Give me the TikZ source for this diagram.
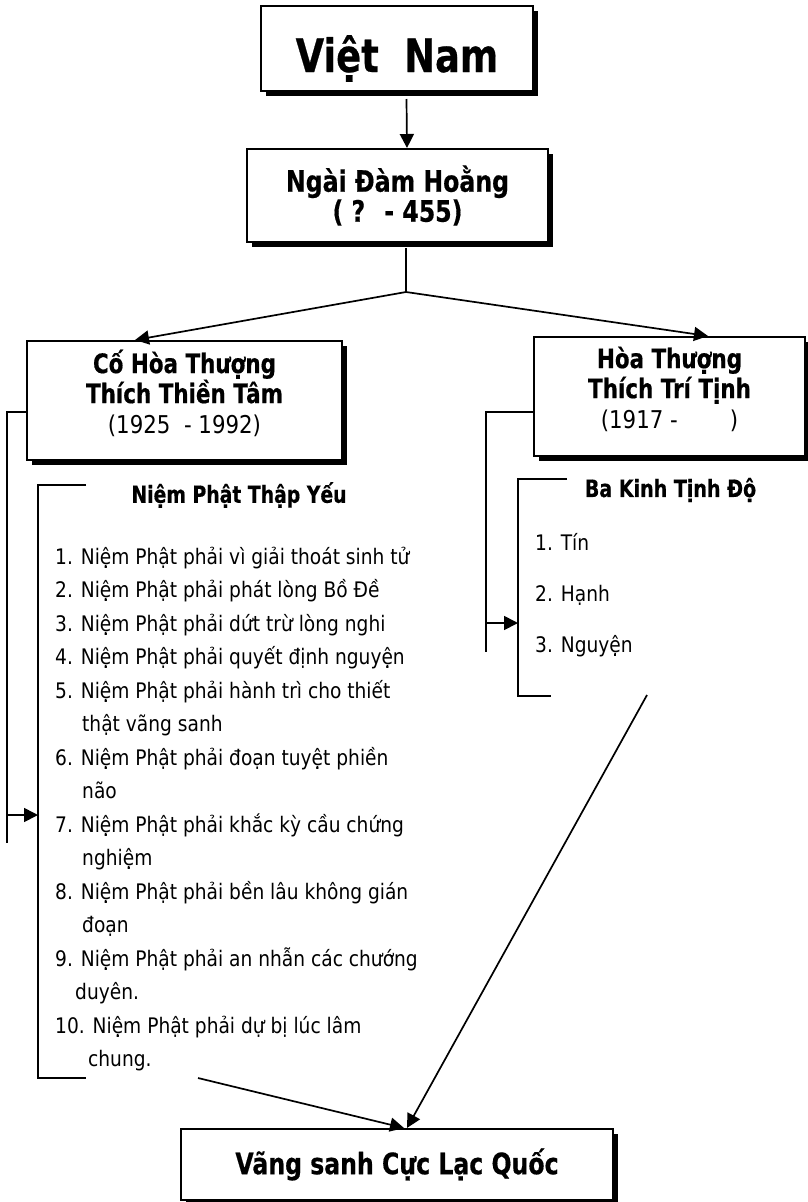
\documentclass[tikz,border=0pt]{standalone}
\usepackage{fontspec}
\setmainfont{DejaVu Sans}[FakeStretch=0.87]
\newfontfamily\vnbold{DejaVu Sans}[FakeStretch=0.8, BoldFeatures={FakeBold=0.5}]
\newcommand\bvn[1]{{\vnbold\bfseries #1}}
\usetikzlibrary{positioning, arrows.meta, shadows}

\begin{document}
\begin{tikzpicture}[
  x=1pt, y=-1pt,
  every node/.style={align=center, inner sep=0pt},
  flow/.style={-{Triangle[length=14pt,width=14pt]}, line width=1.7pt},
  link/.style={line width=1.7pt},
  hbox/.style={draw, line width=2pt, fill=white,
               drop shadow={shadow xshift=5pt, shadow yshift=-5pt, opacity=1, fill=black}},
  bigtxt/.style={font=\vnbold\bfseries\fontsize{46}{50}\selectfont},
  headtxt/.style={font=\vnbold\bfseries\fontsize{29.5}{30}\selectfont},
  nametxt/.style={font=\fontsize{24.5}{30}\selectfont},
  listhead/.style={font=\vnbold\bfseries\fontsize{23.5}{26}\selectfont},
  listtxt/.style={font=\fontsize{21.4}{33.5}\selectfont, align=left},
]
\useasboundingbox (0,0) rectangle (808,1202);

% ---------- top ----------
\node[hbox, minimum width=272pt, minimum height=85pt] (vietnam) at (397,48.5) {};
\node[bigtxt, anchor=base] (vietnam-t) at (397,72) {Việt~ Nam};

\node[hbox, headtxt, minimum width=301pt, minimum height=93pt] (ngai) at (397.5,195.5)
  {Ngài Đàm Hoằng\\( ?~ - 455)};

% ---------- two masters ----------
\node[hbox, minimum width=315pt, minimum height=119pt] (tam) at (184.5,400.5) {};
\node[nametxt] (tam-t) at (184.5,393)
  {\bvn{\fontsize{26.8}{30}\selectfont Cố Hòa Thượng}\\
   \bvn{\fontsize{26.8}{30}\selectfont Thích Thiền Tâm}\\(1925~ - 1992)};

\node[hbox, minimum width=271pt, minimum height=119pt] (tinh) at (669.5,396.5) {};
\node[nametxt] (tinh-t) at (669.5,389)
  {\bvn{\fontsize{26.8}{30}\selectfont Hòa Thượng}\\
   \bvn{\fontsize{26.8}{30}\selectfont Thích Trí Tịnh}\\(1917 -\hspace{52pt})};

% ---------- left list ----------
\node[listhead] (yeu-h) at (239,495) {Niệm Phật Thập Yếu};
\node[listtxt, anchor=west] (yeu) at (55,809)
  {1. Niệm Phật phải vì giải thoát sinh tử\\
   2. Niệm Phật phải phát lòng Bồ Đề\\
   3. Niệm Phật phải dứt trừ lòng nghi\\
   4. Niệm Phật phải quyết định nguyện\\
   5. Niệm Phật phải hành trì cho thiết\\
   \hspace*{27pt}thật vãng sanh\\
   6. Niệm Phật phải đoạn tuyệt phiền\\
   \hspace*{27pt}não\\
   7. Niệm Phật phải khắc kỳ cầu chứng\\
   \hspace*{27pt}nghiệm\\
   8. Niệm Phật phải bền lâu không gián\\
   \hspace*{27pt}đoạn\\
   9. Niệm Phật phải an nhẫn các chướng\\
   \hspace*{20pt}duyên.\\
   10. Niệm Phật phải dự bị lúc lâm\\
   \hspace*{33pt}chung.};

% ---------- right list ----------
\node[listhead, font=\vnbold\bfseries\fontsize{23.8}{26}\selectfont] (kinh-h) at (670.5,490)
  {Ba Kinh Tịnh Độ};
\node[listtxt, anchor=west, font=\fontsize{21.4}{51}\selectfont] (kinh) at (535,595)
  {1. Tín\\2. Hạnh\\3. Nguyện};

% ---------- bottom ----------
\node[hbox, headtxt, minimum width=432pt, minimum height=71pt] (vangsanh) at (397,1164.5)
  {Vãng sanh Cực Lạc Quốc};

% ---------- arrows ----------
\coordinate (split) at (406,292);
\draw[flow] ([xshift=9.5pt, yshift=-7pt]vietnam.south) -- ([xshift=9.5pt]ngai.north);
\draw[link] ([xshift=8.5pt, yshift=-5pt]ngai.south) -- (split);
\draw[flow] (split) -- ([xshift=-49.5pt]tam.north);
\draw[flow] (split) -- ([xshift=38.5pt]tinh.north);

% left bracket
\coordinate (tamturn) at (7,412);
\coordinate (tamfork) at (7,815);
\coordinate (tamend) at (7,843);
\coordinate (yeutop) at (86,485);
\coordinate (yeubar) at (38,485);
\coordinate (yeubot) at (86,1078);
\coordinate (yeuout) at (198,1078);
\draw[link] (tam.west |- tamturn) -- (tamturn) -- (tamend);
\draw[link] (yeutop) -- (yeubar) -- (yeubar |- yeubot) -- (yeubot);
\draw[flow] (tamfork) -- (tamfork -| yeubar);

% right bracket
\coordinate (tinhturn) at (486,412);
\coordinate (tinhfork) at (486,623);
\coordinate (tinhend) at (486,652);
\coordinate (kinhtop) at (567,479);
\coordinate (kinhbar) at (518,479);
\coordinate (kinhbot) at (551,696);
\coordinate (kinhout) at (647,695);
\draw[link] (tinh.west |- tinhturn) -- (tinhturn) -- (tinhend);
\draw[link] (kinhtop) -- (kinhbar) -- (kinhbar |- kinhbot) -- (kinhbot);
\draw[flow] (tinhfork) -- (tinhfork -| kinhbar);

% into the last box
\draw[flow] (yeuout) -- ([xshift=7pt]vangsanh.north);
\draw[flow] (kinhout) -- ([xshift=10pt]vangsanh.north);

\end{tikzpicture}
\end{document}
